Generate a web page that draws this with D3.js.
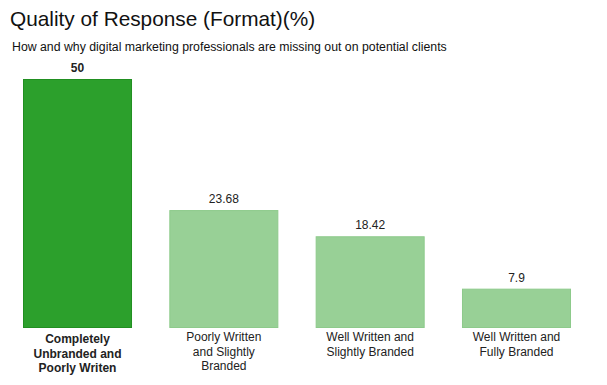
<!DOCTYPE html>
<html>
<head>
<meta charset="utf-8">
<script src="https://d3js.org/d3.v7.min.js"></script>
<style>
  body { margin: 0; background: #fff; }
  svg text { font-family: "Liberation Sans", Arial, Helvetica, sans-serif; fill: #222; }
</style>
</head>
<body>
<div id="chart"></div>
<script>
var categories = [
    ["Completely", "Unbranded and", "Poorly Writen"],
    ["Poorly Written", "and Slightly", "Branded"],
    ["Well Written and", "Slightly Branded"],
    ["Well Written and", "Fully Branded"]
];
var values = [50, 23.68, 18.42, 7.9];
var valueLabels = ["50", "23.68", "18.42", "7.9"];
var highlighted = [true, false, false, false];

var width = 607, height = 385;
var baseY = 328;

var svg = d3.select("#chart").append("svg")
    .attr("width", width)
    .attr("height", height);

svg.append("text")
    .attr("x", 10)
    .attr("y", 26)
    .style("font-size", "20.8px")
    .style("font-weight", "300")
    .style("fill", "#111")
    .text("Quality of Response (Format)(%)");

svg.append("text")
    .attr("x", 12)
    .attr("y", 51)
    .style("font-size", "12.3px")
    .style("fill", "#111")
    .text("How and why digital marketing professionals are missing out on potential clients");

var x = d3.scaleBand()
    .domain(d3.range(values.length))
    .range([23, 571])
    .paddingInner(0.255)
    .paddingOuter(0);

var y = d3.scaleLinear()
    .domain([0, 50])
    .range([baseY, 79]);

var g = svg.selectAll("g.bar").data(values).enter().append("g")
    .attr("class", "bar");

g.append("rect")
    .attr("x", function(d, i) { return x(i) + 0.5; })
    .attr("y", function(d) { return y(d) + 0.5; })
    .attr("width", x.bandwidth() - 1)
    .attr("height", function(d) { return baseY - y(d) - 1; })
    .attr("fill", function(d, i) { return highlighted[i] ? "#2ca02c" : "#98d096"; })
    .attr("stroke", function(d, i) { return highlighted[i] ? "#218f21" : "#8dca8b"; })
    .attr("stroke-width", 1);

g.append("text")
    .attr("x", function(d, i) { return x(i) + x.bandwidth() / 2; })
    .attr("y", function(d) { return y(d) - 7; })
    .attr("text-anchor", "middle")
    .style("font-size", "12px")
    .style("font-weight", function(d, i) { return highlighted[i] ? "bold" : "normal"; })
    .text(function(d, i) { return valueLabels[i]; });

var labels = g.append("text")
    .attr("text-anchor", "middle")
    .style("font-size", "12px")
    .style("font-weight", function(d, i) { return highlighted[i] ? "bold" : "normal"; });

labels.each(function(d, i) {
    var t = d3.select(this);
    var top = highlighted[i] ? 343 : 341;
    categories[i].forEach(function(line, j) {
        t.append("tspan")
            .attr("x", x(i) + x.bandwidth() / 2)
            .attr("y", top + j * 14.5)
            .text(line);
    });
});
</script>
</body>
</html>
